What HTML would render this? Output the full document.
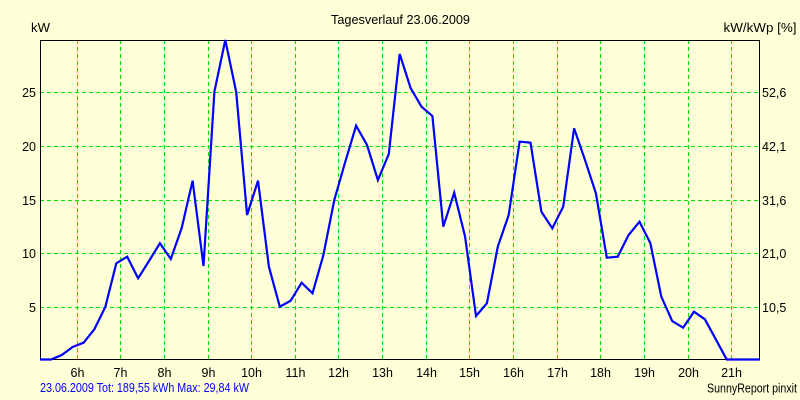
<!DOCTYPE html>
<html>
<head>
<meta charset="utf-8">
<style>
html,body{margin:0;padding:0;background:#FFFFD8;}
svg{display:block;}
text{font-family:"Liberation Sans",sans-serif;font-size:12.5px;fill:#000;}
</style>
</head>
<body>
<svg width="800" height="400" viewBox="0 0 800 400" xmlns="http://www.w3.org/2000/svg">
<rect x="0" y="0" width="800" height="400" fill="#FFFFD8"/>
<g stroke="#00E600" stroke-width="1" stroke-dasharray="4,3" fill="none" shape-rendering="crispEdges">
<line x1="40" y1="92.5" x2="760" y2="92.5"/>
<line x1="40" y1="146.5" x2="760" y2="146.5"/>
<line x1="40" y1="200.5" x2="760" y2="200.5"/>
<line x1="40" y1="253.5" x2="760" y2="253.5"/>
<line x1="40" y1="307.5" x2="760" y2="307.5"/>
<line x1="77.5" y1="40" x2="77.5" y2="360"/>
<line x1="120.5" y1="40" x2="120.5" y2="360"/>
<line x1="164.5" y1="40" x2="164.5" y2="360"/>
<line x1="208.5" y1="40" x2="208.5" y2="360"/>
<line x1="251.5" y1="40" x2="251.5" y2="360"/>
<line x1="295.5" y1="40" x2="295.5" y2="360"/>
<line x1="338.5" y1="40" x2="338.5" y2="360"/>
<line x1="382.5" y1="40" x2="382.5" y2="360"/>
<line x1="426.5" y1="40" x2="426.5" y2="360"/>
<line x1="469.5" y1="40" x2="469.5" y2="360"/>
<line x1="513.5" y1="40" x2="513.5" y2="360"/>
<line x1="557.5" y1="40" x2="557.5" y2="360"/>
<line x1="600.5" y1="40" x2="600.5" y2="360"/>
<line x1="644.5" y1="40" x2="644.5" y2="360"/>
<line x1="688.5" y1="40" x2="688.5" y2="360"/>
<line x1="731.5" y1="40" x2="731.5" y2="360"/>
</g>
<rect x="40.5" y="40.5" width="719" height="319" fill="none" stroke="#000" stroke-width="1" shape-rendering="crispEdges"/>
<polyline fill="none" stroke="#0000FF" stroke-width="2.2" stroke-linejoin="miter" points="
40,359.5 50.9,359.5 61.8,355 72.7,347 83.6,342.7 94.5,329 105.4,306.7 116.3,263.3 127.2,256.7 138.1,278.3
149,261 159.9,243.3 170.8,259 181.7,228 192.6,180.7 203.5,266 214.4,91.7 225.3,40 236.2,92 247.1,215
258,180.7 268.9,266.7 279.8,306.7 290.7,300.7 301.6,282.7 312.5,293.3 323.4,255 334.3,200 345.2,162 356.1,125.7
367,145 377.9,180 388.8,154 399.7,54 410.6,88 421.5,106.7 432.4,116 443.3,226.7 454.2,192.7 465.1,236.7
476,316 486.9,303.3 497.8,246.7 508.7,215 519.6,141.7 530.5,142.7 541.4,211.7 552.3,228.3 563.2,206.7 574.1,128.3
585,160 595.9,193.3 606.8,257.7 617.7,256.7 628.6,235 639.5,221.7 650.4,243.3 661.3,296.7 672.2,321 683.1,327.7
694,311.7 704.9,319.3 715.8,339.3 726.7,359.5 737.6,359.5 748.5,359.5 760,359.5"/>
<text x="331" y="24" textLength="139" lengthAdjust="spacingAndGlyphs">Tagesverlauf 23.06.2009</text>
<text x="31" y="32" textLength="19" lengthAdjust="spacingAndGlyphs">kW</text>
<text x="723.5" y="32" textLength="73" lengthAdjust="spacingAndGlyphs">kW/kWp [%]</text>
<g text-anchor="end">
<text x="36" y="97">25</text>
<text x="36" y="151">20</text>
<text x="36" y="205">15</text>
<text x="36" y="258">10</text>
<text x="36" y="312">5</text>
</g>
<g>
<text x="762" y="97">52,6</text>
<text x="762" y="151">42,1</text>
<text x="762" y="205">31,6</text>
<text x="762" y="258">21,0</text>
<text x="762" y="312">10,5</text>
</g>
<g text-anchor="middle">
<text x="77.5" y="377">6h</text>
<text x="120.5" y="377">7h</text>
<text x="164.5" y="377">8h</text>
<text x="208.5" y="377">9h</text>
<text x="251.5" y="377">10h</text>
<text x="295.5" y="377">11h</text>
<text x="338.5" y="377">12h</text>
<text x="382.5" y="377">13h</text>
<text x="426.5" y="377">14h</text>
<text x="469.5" y="377">15h</text>
<text x="513.5" y="377">16h</text>
<text x="557.5" y="377">17h</text>
<text x="600.5" y="377">18h</text>
<text x="644.5" y="377">19h</text>
<text x="688.5" y="377">20h</text>
<text x="731.5" y="377">21h</text>
</g>
<text x="40" y="392" textLength="209" lengthAdjust="spacingAndGlyphs" style="fill:#0000FF">23.06.2009 Tot: 189,55 kWh Max: 29,84 kW</text>
<text x="707" y="392.5" textLength="90" lengthAdjust="spacingAndGlyphs">SunnyReport pinxit</text>
</svg>
</body>
</html>
